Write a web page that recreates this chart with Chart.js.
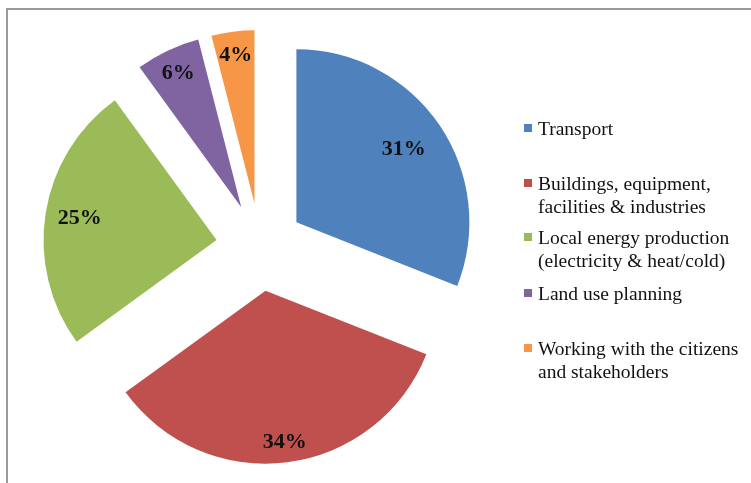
<!DOCTYPE html>
<html>
<head>
<meta charset="utf-8">
<script src="https://cdn.jsdelivr.net/npm/chart.js@4"></script>
<style>
    body { margin: 0; background: #fff; }
    #wrap { position: relative; width: 751px; height: 483px; overflow: hidden; }
    #frame { position: absolute; left: 6px; top: 8px; width: 800px; height: 600px;
        border-top: 2px solid #9a9a9a; border-left: 2px solid #9a9a9a; }
    #pie { position: absolute; left: 0; top: 0; }
    .item { position: absolute; left: 524px; font: 19.5px "Liberation Serif", serif;
        line-height: 23px; color: #111; }
    .item .box { position: absolute; left: 0; top: 7.5px; width: 8px; height: 8px; }
    .item .txt { position: absolute; left: 14px; top: 0; white-space: nowrap; }
</style>
</head>
<body>
<div id="wrap">
    <div id="frame"></div>
    <canvas id="pie" width="751" height="483"></canvas>
    <div id="legend"></div>
</div>
<script>
// data
const categories = [
    ['Transport'],
    ['Buildings, equipment,', 'facilities & industries'],
    ['Local energy production', '(electricity & heat/cold)'],
    ['Land use planning'],
    ['Working with the citizens', 'and stakeholders']
];
const shares = [31, 34, 25, 6, 4];

// styles
const colors = ['#4F81BD', '#C0504D', '#9BBB59', '#8064A2', '#F79646'];
const explode = 44;
const labelRadius = [0.75, 0.885, 0.8, 0.855, 0.86];
const legendTops = [128, 183, 237, 293, 348];

// pull slices out from the centre
const explodePlugin = {
    id: 'explode',
    afterDatasetsUpdate(chart) {
        chart.getDatasetMeta(0).data.forEach(function (arc) {
            const mid = (arc.startAngle + arc.endAngle) / 2;
            arc.x += Math.cos(mid) * explode;
            arc.y += Math.sin(mid) * explode;
        });
    }
};

// percent labels inside slices
const labelPlugin = {
    id: 'pctLabels',
    afterDatasetsDraw(chart) {
        const ctx = chart.ctx;
        ctx.save();
        ctx.font = 'bold 22px "Liberation Serif", serif';
        ctx.fillStyle = '#111';
        ctx.textAlign = 'center';
        ctx.textBaseline = 'middle';
        chart.getDatasetMeta(0).data.forEach(function (arc, i) {
            const mid = (arc.startAngle + arc.endAngle) / 2;
            const r = arc.outerRadius * labelRadius[i];
            ctx.fillText(shares[i] + '%', arc.x + Math.cos(mid) * r, arc.y + Math.sin(mid) * r);
        });
        ctx.restore();
    }
};

new Chart(document.getElementById('pie'), {
    type: 'pie',
    data: {
        labels: categories.map(c => c.join(' ')),
        datasets: [{
            data: shares,
            backgroundColor: colors,
            borderWidth: 0
        }]
    },
    options: {
        responsive: false,
        animation: false,
        radius: 173,
        layout: { padding: { left: 0, right: 231, top: 11, bottom: 0 } },
        plugins: {
            legend: { display: false },
            tooltip: { enabled: false }
        }
    },
    plugins: [explodePlugin, labelPlugin]
});

// legend
const legend = document.getElementById('legend');
categories.forEach(function (lines, i) {
    const item = document.createElement('div');
    item.className = 'item';
    item.style.top = (legendTops[i] - 11.5) + 'px';
    const box = document.createElement('div');
    box.className = 'box';
    box.style.background = colors[i];
    const txt = document.createElement('div');
    txt.className = 'txt';
    txt.innerHTML = lines.map(l => l.replace(/&/g, '&amp;')).join('<br>');
    item.appendChild(box);
    item.appendChild(txt);
    legend.appendChild(item);
});
</script>
</body>
</html>
